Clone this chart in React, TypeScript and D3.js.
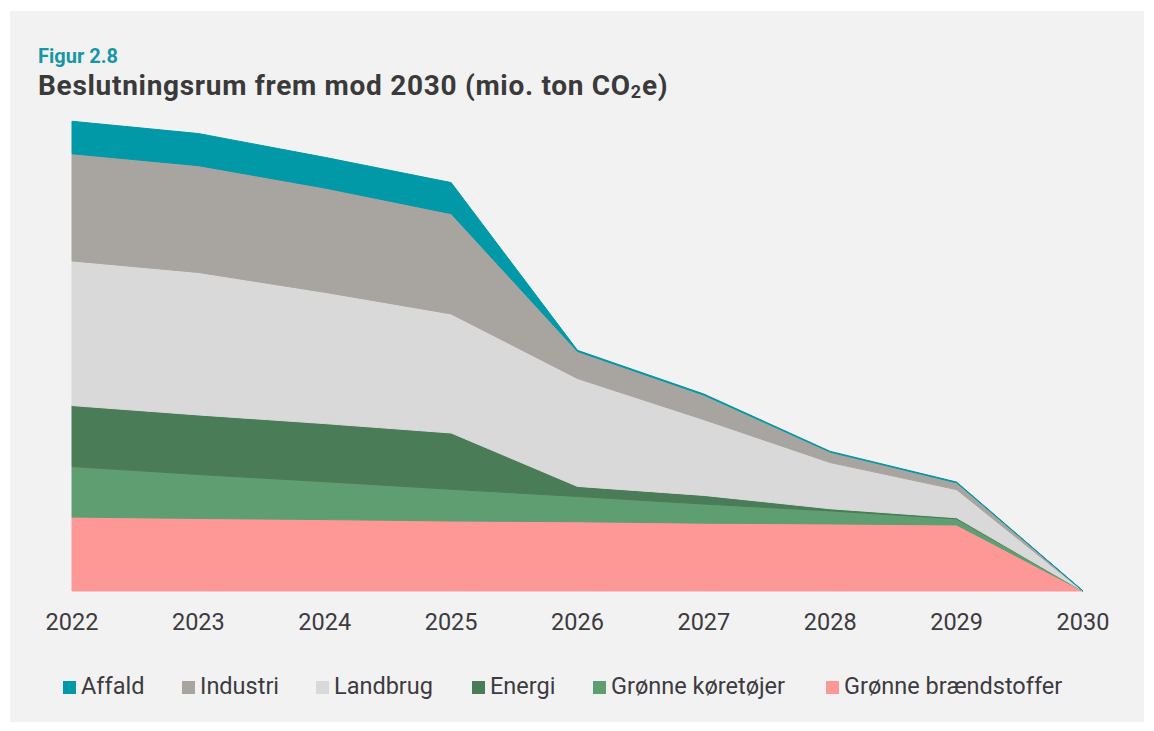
import React from "react";
import * as d3 from "d3";

const years = [2022, 2023, 2024, 2025, 2026, 2027, 2028, 2029, 2030];
const groenneBraendstoffer = [2.05, 2.01, 1.98, 1.94, 1.92, 1.88, 1.86, 1.83, 0];
const groenneKoeretoejer = [1.4, 1.22, 1.05, 0.88, 0.7, 0.53, 0.36, 0.17, 0];
const energi = [1.69, 1.65, 1.61, 1.56, 0.28, 0.24, 0.06, 0.03, 0];
const landbrug = [4.01, 3.95, 3.64, 3.3, 2.99, 2.1, 1.28, 0.78, 0];
const industri = [2.97, 2.96, 2.89, 2.78, 0.75, 0.68, 0.29, 0.19, 0];
const affald = [0.9, 0.89, 0.85, 0.86, 0.03, 0.03, 0.02, 0.02, 0];

const seriesNames = ["Grønne brændstoffer", "Grønne køretøjer", "Energi", "Landbrug", "Industri", "Affald"];
const seriesValues = [groenneBraendstoffer, groenneKoeretoejer, energi, landbrug, industri, affald];
const seriesColors = ["#fe9896", "#5f9e70", "#4a7c57", "#d9d9d9", "#a8a49f", "#0198a7"];
const legendOrder = ["Affald", "Industri", "Landbrug", "Energi", "Grønne køretøjer", "Grønne brændstoffer"];
const legendX = [63, 182, 316, 472, 593, 826];

const W = 1154;
const H = 731;
const FONT = "Roboto, 'Noto Sans', sans-serif";

export default function App() {
  const x = d3.scaleLinear().domain([2022, 2030]).range([72, 1083]);
  const y = d3.scaleLinear().domain([0, 13]).range([591, 122]);

  const table = years.map((yr, i) => {
    const row: Record<string, number> = { year: yr };
    seriesNames.forEach((n, s) => (row[n] = seriesValues[s][i]));
    return row;
  });
  const stack = d3.stack<Record<string, number>>().keys(seriesNames);
  const layers = stack(table);
  const area = d3
    .area<d3.SeriesPoint<Record<string, number>>>()
    .x((d) => x(d.data.year))
    .y0((d) => y(d[0]))
    .y1((d) => y(d[1]));

  const legendItems = legendOrder.map((name, i) => ({
    name,
    color: seriesColors[seriesNames.indexOf(name)],
    x: legendX[i],
  }));

  return (
    <svg
      width={W}
      height={H}
      style={{ position: "absolute", left: 0, top: 0, background: "#ffffff" }}
      fontFamily={FONT}
    >
      <rect x={10} y={11} width={1134} height={711} fill="#f2f2f2" />
      <text x={38} y={63} fontSize={20} fontWeight={700} fill="#1797a6">
        Figur 2.8
      </text>
      <text x={38} y={95} fontSize={28} fontWeight={700} fill="#3a3a3a" letterSpacing={0.7}>
        Beslutningsrum frem mod 2030 (mio. ton CO
        <tspan fontSize={18} dy={3}>2</tspan>
        <tspan dy={-3}>e)</tspan>
      </text>
      <g>
        {layers.map((layer, i) => (
          <path
            key={layer.key}
            d={area(layer) || ""}
            fill={seriesColors[i]}
            stroke={seriesColors[i]}
            strokeWidth={1}
            strokeLinejoin="round"
          />
        ))}
      </g>
      <g>
        {years.map((yr) => (
          <text key={yr} x={x(yr)} y={630} textAnchor="middle" fontSize={23.5} fill="#3d3a40">
            {yr}
          </text>
        ))}
      </g>
      <g>
        {legendItems.map((it) => (
          <g key={it.name}>
            <rect x={it.x} y={681} width={13} height={13} fill={it.color} />
            <text x={it.x + 18} y={694} fontSize={23.5} fill="#3d3a40">
              {it.name}
            </text>
          </g>
        ))}
      </g>
    </svg>
  );
}
